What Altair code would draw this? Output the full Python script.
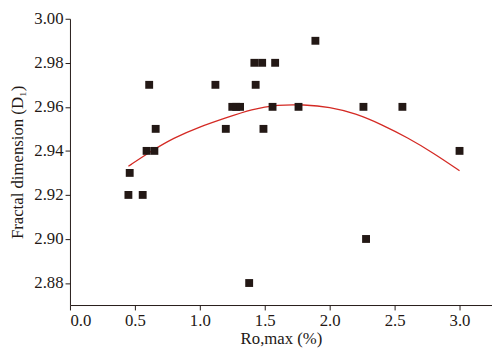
import altair as alt
import pandas as pd

# Scatter data
ro_max = [0.45, 0.46, 0.56, 0.61, 0.59, 0.65, 0.66, 1.12, 1.20, 1.25, 1.28, 1.31,
          1.42, 1.48, 1.58, 1.43, 1.49, 1.56, 1.76, 1.89, 1.38, 2.26, 2.28, 2.56, 3.00]
fractal = [2.92, 2.93, 2.92, 2.97, 2.94, 2.94, 2.95, 2.97, 2.95, 2.96, 2.96, 2.96,
           2.98, 2.98, 2.98, 2.97, 2.95, 2.96, 2.96, 2.99, 2.88, 2.96, 2.90, 2.96, 2.94]

# Fitted curve
fit_x = [0.45, 0.6, 0.8, 1.0, 1.2, 1.4, 1.6, 1.8, 2.0, 2.2, 2.4, 2.6, 2.8, 3.0]
fit_y = [2.933, 2.939, 2.946, 2.951, 2.955, 2.959, 2.961, 2.961, 2.960, 2.957,
         2.952, 2.946, 2.939, 2.931]

x_ticks = [0.0, 0.5, 1.0, 1.5, 2.0, 2.5, 3.0]
y_ticks = [2.88, 2.90, 2.92, 2.94, 2.96, 2.98, 3.00]

pts = pd.DataFrame({"x": ro_max, "y": fractal})
fit = pd.DataFrame({"x": fit_x, "y": fit_y})

FONT = "Liberation Serif"
INK = "#231815"

xscale = alt.Scale(domain=[0, 3.25], nice=False, zero=False)
yscale = alt.Scale(domain=[2.87, 3.0], nice=False, zero=False)

common = dict(grid=False, domainColor=INK, tickColor=INK, tickSize=5,
              labelFont=FONT, labelFontSize=17, labelColor=INK,
              titleFont=FONT, titleFontSize=17, titleFontWeight="normal",
              titleColor=INK)

xaxis = alt.Axis(title="Ro,max (%)", values=x_ticks, format=".1f",
                 labelPadding=3, titlePadding=2, **common)
yaxis = alt.Axis(title="Fractal dimension (D₁)", values=y_ticks, format=".2f",
                 labelPadding=2, titlePadding=8, **common)

points = alt.Chart(pts).mark_square(size=64, color=INK, opacity=1).encode(
    x=alt.X("x:Q", scale=xscale, axis=xaxis),
    y=alt.Y("y:Q", scale=yscale, axis=yaxis),
)

curve = alt.Chart(fit).mark_line(color="#d42a24", strokeWidth=1.3, interpolate="basis").encode(
    x=alt.X("x:Q", scale=xscale),
    y=alt.Y("y:Q", scale=yscale),
)

chart = alt.layer(curve, points).properties(
    width=429, height=291,
    autosize=alt.AutoSizeParams(type="none"),
    padding={"left": 63, "top": 8, "right": 0, "bottom": 57},
).configure_view(stroke=None)

chart.save("out.html", embed_options={"renderer": "svg", "actions": False})
